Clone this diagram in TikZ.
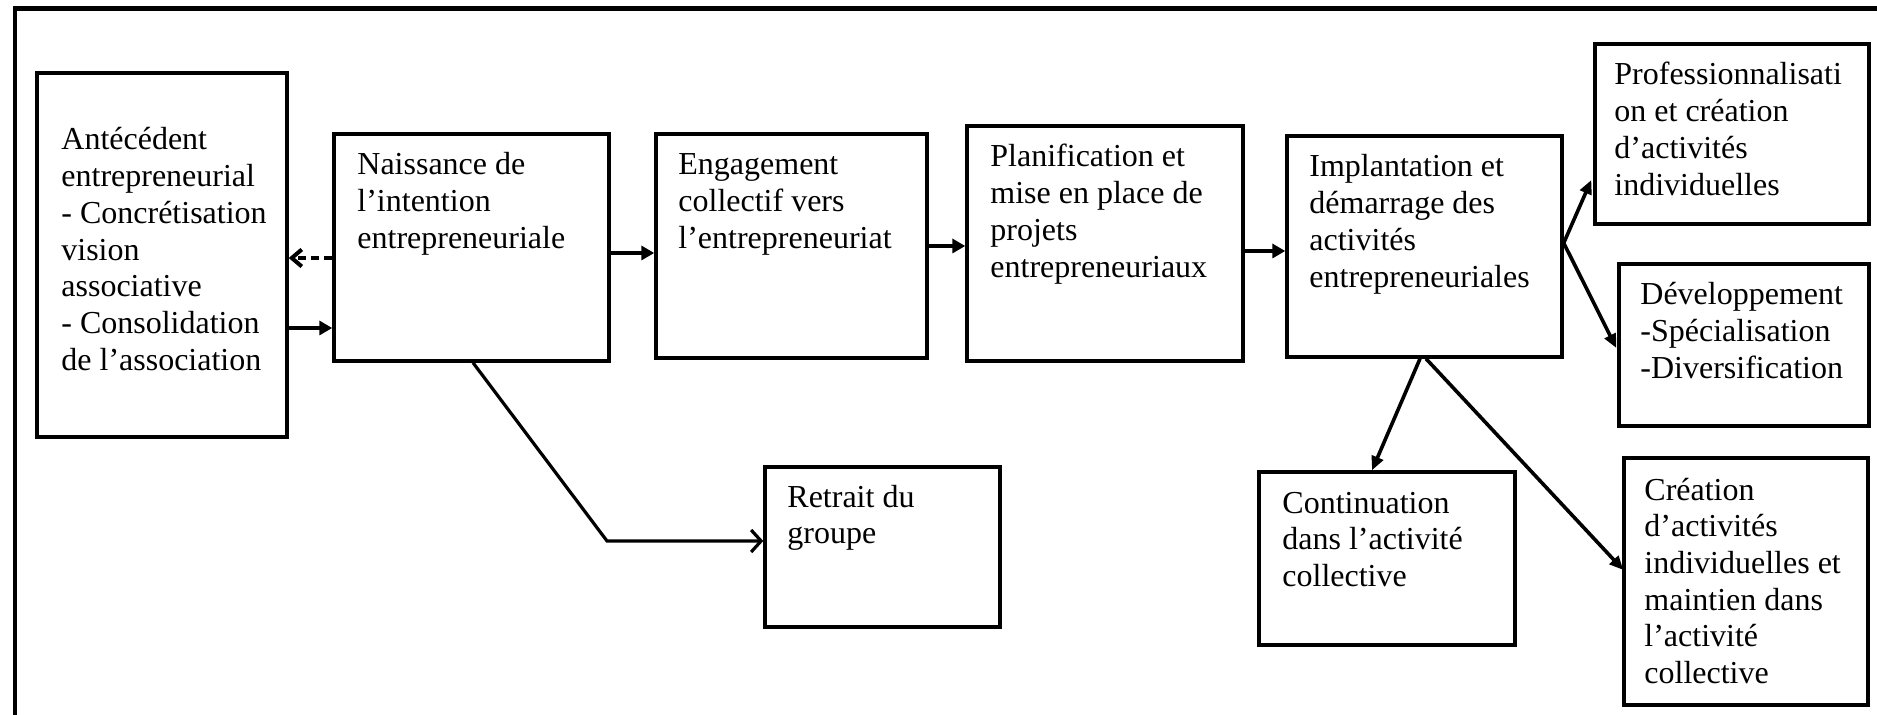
\documentclass[tikz,border=0pt]{standalone}
\usepackage{fontspec}
\setmainfont{Liberation Serif}
\usetikzlibrary{arrows.meta,calc}
\newcommand\boxlines[1]{\parbox[t]{170pt}{\raggedright #1}}
\begin{document}
\begin{tikzpicture}[x=0.5pt,y=-0.5pt,
  box/.style={draw, line width=1.7pt, rectangle, inner sep=0pt},
  txt/.style={anchor=base west, inner sep=0pt, font=\fontsize{16pt}{18.35pt}\selectfont},
  arr/.style={line width=2pt, -{Triangle[length=6.5pt,width=7pt]}},
  diag/.style={line width=1.8pt, -{Triangle[length=7pt,width=6pt]}},
  openarr/.style={line width=1.6pt, -{Straight Barb[length=5pt,width=11pt]}},
  dasharr/.style={line width=2pt, dash pattern=on 4pt off 2.5pt, -{Straight Barb[length=5pt,width=8.5pt]}},
]
\useasboundingbox (0,0) rectangle (1877,715);

% outer frame (open on the right and at the bottom)
\coordinate (fbl) at (15,715);
\coordinate (ftl) at (15,8.5);
\coordinate (ftr) at (1877,8.5);
\draw[line width=2.35pt] (fbl) -- (ftl) -- (ftr);

% boxes
\node[box, minimum width=125pt,   minimum height=182pt]   (ant) at (162,255) {};
\node[box, minimum width=137.5pt, minimum height=113.5pt] (nai) at (471.5,247.5) {};
\node[box, minimum width=135.5pt, minimum height=112pt]   (eng) at (791.5,246) {};
\node[box, minimum width=138pt,   minimum height=117.5pt] (pla) at (1105,243.5) {};
\node[box, minimum width=137.5pt, minimum height=110.5pt] (imp) at (1424.5,246.5) {};
\node[box, minimum width=137pt,   minimum height=90pt]    (pro) at (1732,134) {};
\node[box, minimum width=125pt,   minimum height=81pt]    (dev) at (1744,345) {};
\node[box, minimum width=117.5pt, minimum height=80pt]    (ret) at (882.5,547) {};
\node[box, minimum width=128pt,   minimum height=86.5pt]  (con) at (1387,558.5) {};
\node[box, minimum width=122pt,   minimum height=123.5pt] (cre) at (1746,581.5) {};

% texts
\node[txt] (ant-t) at (61,150) {\boxlines{Antécédent\\ entrepreneurial\\ - Concrétisation\\ vision\\ associative\\ - Consolidation\\ de l’association}};
\node[txt] (nai-t) at (357,175) {\boxlines{Naissance de\\ l’intention\\ entrepreneuriale}};
\node[txt] (eng-t) at (678,175) {\boxlines{Engagement\\ collectif vers\\ l’entrepreneuriat}};
\node[txt] (pla-t) at (990,167) {\boxlines{Planification et\\ mise en place de\\ projets\\ entrepreneuriaux}};
\node[txt] (imp-t) at (1309,177) {\boxlines{Implantation et\\ démarrage des\\ activités\\ entrepreneuriales}};
\node[txt] (pro-t) at (1614,85) {\boxlines{Professionnalisati\\ on et création\\ d’activités\\ individuelles}};
\node[txt] (dev-t) at (1640,305) {\boxlines{Développement\\ -Spécialisation\\ -Diversification}};
\node[txt] (ret-t) at (787,507) {\boxlines{Retrait du\\ groupe}};
\node[txt] (con-t) at (1282,513) {\boxlines{Continuation\\ dans l’activité\\ collective}};
\node[txt] (cre-t) at (1644,500) {\boxlines{Création\\ d’activités\\ individuelles et\\ maintien dans\\ l’activité\\ collective}};

% connectors between the left boxes
\coordinate (d1) at ($(nai.west)+(0,10.5)$);
\draw[dasharr] (d1) -- (d1 -| ant.east);
\coordinate (a1) at ($(ant.east)+(0,73)$);
\draw[arr] (a1) -- (a1 -| nai.west);

% main chain
\coordinate (a2) at ($(nai.east)+(0,5.5)$);
\draw[arr] (a2) -- (a2 -| eng.west);
\draw[arr] (eng.east) -- (eng.east -| pla.west);
\coordinate (a3) at ($(pla.east)+(0,7.5)$);
\draw[arr] (a3) -- (a3 -| imp.west);

% withdrawal branch
\coordinate (bend) at (607,541);
\draw[openarr] ($(nai.south)+(1.5,0)$) -- (bend) -- (bend -| ret.west);

% outcome branches
\coordinate (fork) at ($(imp.east)+(0,-3.5)$);
\draw[diag] (fork) -- ($(pro.west)+(-2,46)$);
\draw[diag] (fork) -- ($(dev.west)+(-1,3)$);
\draw[diag] ($(imp.south)+(-4.5,0)$) -- ($(con.north)+(-15,0)$);
\draw[diag] ($(imp.south)+(1.5,0)$) -- ($(cre.west)+(1,-11.5)$);
\end{tikzpicture}
\end{document}
